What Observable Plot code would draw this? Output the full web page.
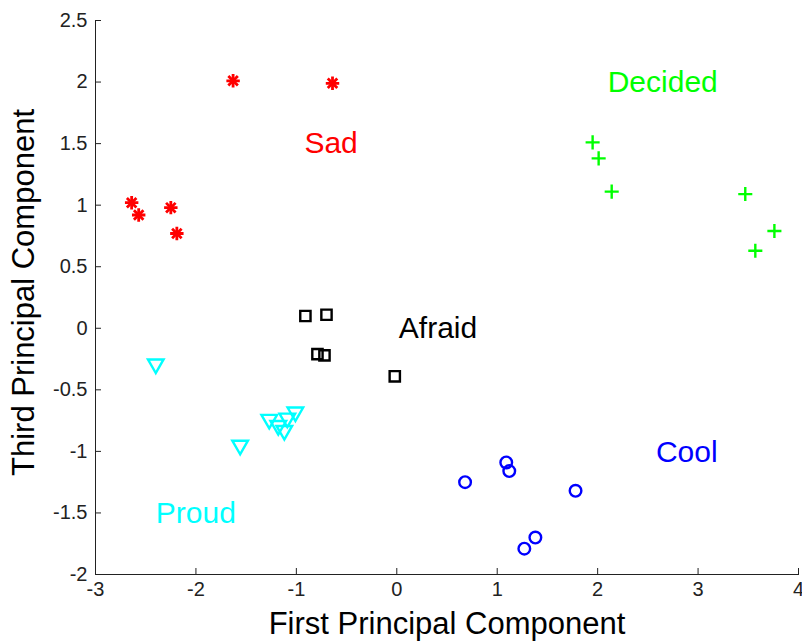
<!DOCTYPE html>
<html><head><meta charset="utf-8">
<script src="https://cdn.jsdelivr.net/npm/d3@7"></script>
<script src="https://cdn.jsdelivr.net/npm/@observablehq/plot@0.6"></script>
<style>body{margin:0;background:#fff}</style>
</head><body><div id="chart"></div>
<script>
// Data
const sadX = [-1.63, -0.64, -2.64, -2.57, -2.25, -2.19];
const sadY = [2.01, 1.99, 1.02, 0.92, 0.98, 0.77];
const decidedX = [1.95, 2.01, 2.14, 3.47, 3.76, 3.57];
const decidedY = [1.51, 1.38, 1.11, 1.09, 0.79, 0.63];
const afraidX = [-0.91, -0.70, -0.79, -0.72, -0.02];
const afraidY = [0.10, 0.11, -0.21, -0.22, -0.39];
const proudX = [-2.40, -1.56, -1.27, -1.09, -1.01, -1.18, -1.12];
const proudY = [-0.29, -0.95, -0.74, -0.73, -0.68, -0.79, -0.83];
const coolX = [0.68, 1.09, 1.12, 1.78, 1.38, 1.27];
const coolY = [-1.25, -1.09, -1.16, -1.32, -1.70, -1.79];

const groupNames = ["Sad", "Decided", "Afraid", "Proud", "Cool"];
const groupColors = ["#ff0000", "#00ff00", "#000000", "#00ffff", "#0000ff"];
const labelX = [-0.92, 2.10, 0.02, -2.40, 2.58];
const labelY = [1.50, 2.00, 0.00, -1.50, -1.01];

const xTicks = [-3, -2, -1, 0, 1, 2, 3, 4];
const yTicks = [-2, -1.5, -1, -0.5, 0, 0.5, 1, 1.5, 2, 2.5];
const xTitle = "First Principal Component";
const yTitle = "Third Principal Component";

const pts = (xs, ys) => xs.map((x, i) => ({x, y: ys[i]}));
const labels = groupNames.map((name, i) => ({name, x: labelX[i], y: labelY[i], color: groupColors[i]}));

const chart = Plot.plot({
  width: 802,
  height: 643,
  marginLeft: 95,
  marginRight: 4,
  marginTop: 20,
  marginBottom: 69,
  style: {fontFamily: "'Liberation Sans', Arial, sans-serif", fontSize: "20px", color: "#222", background: "#fff", overflow: "visible"},
  x: {domain: [-3, 4], ticks: xTicks, tickFormat: d => String(d), tickSize: -6, tickPadding: 13, line: true, label: null},
  y: {domain: [-2, 2.5], ticks: yTicks, tickFormat: d => String(d), tickSize: -6, tickPadding: 14, line: true, label: null},
  marks: [
    Plot.dot(pts(sadX, sadY), {x: "x", y: "y", symbol: "plus", r: 4.4, stroke: groupColors[0], strokeWidth: 2.8}),
    Plot.dot(pts(sadX, sadY), {x: "x", y: "y", symbol: "times", r: 4.4, stroke: groupColors[0], strokeWidth: 2.8}),
    Plot.dot(pts(decidedX, decidedY), {x: "x", y: "y", symbol: "plus", r: 4.6, stroke: groupColors[1], strokeWidth: 2.4}),
    Plot.dot(pts(afraidX, afraidY), {x: "x", y: "y", symbol: "square", r: 5.8, fill: "none", stroke: groupColors[2], strokeWidth: 2.4}),
    Plot.dot(pts(proudX, proudY), {x: "x", y: "y", symbol: "triangle", rotate: 180, r: 5.8, fill: "none", stroke: groupColors[3], strokeWidth: 2.4}),
    Plot.dot(pts(coolX, coolY), {x: "x", y: "y", symbol: "circle", r: 5.8, fill: "none", stroke: groupColors[4], strokeWidth: 2.4}),
    Plot.text(labels, {x: "x", y: "y", text: "name", fill: "color", fontSize: 30, textAnchor: "start"}),
    Plot.text([xTitle], {frameAnchor: "bottom", textAnchor: "middle", lineAnchor: "middle", dy: 50, fontSize: 31, fill: "#000"}),
    Plot.text([yTitle], {frameAnchor: "left", textAnchor: "middle", lineAnchor: "middle", rotate: -90, dx: -71, dy: -5, fontSize: 31, fill: "#000"})
  ]
});
document.getElementById("chart").appendChild(chart);
</script>
</body></html>
